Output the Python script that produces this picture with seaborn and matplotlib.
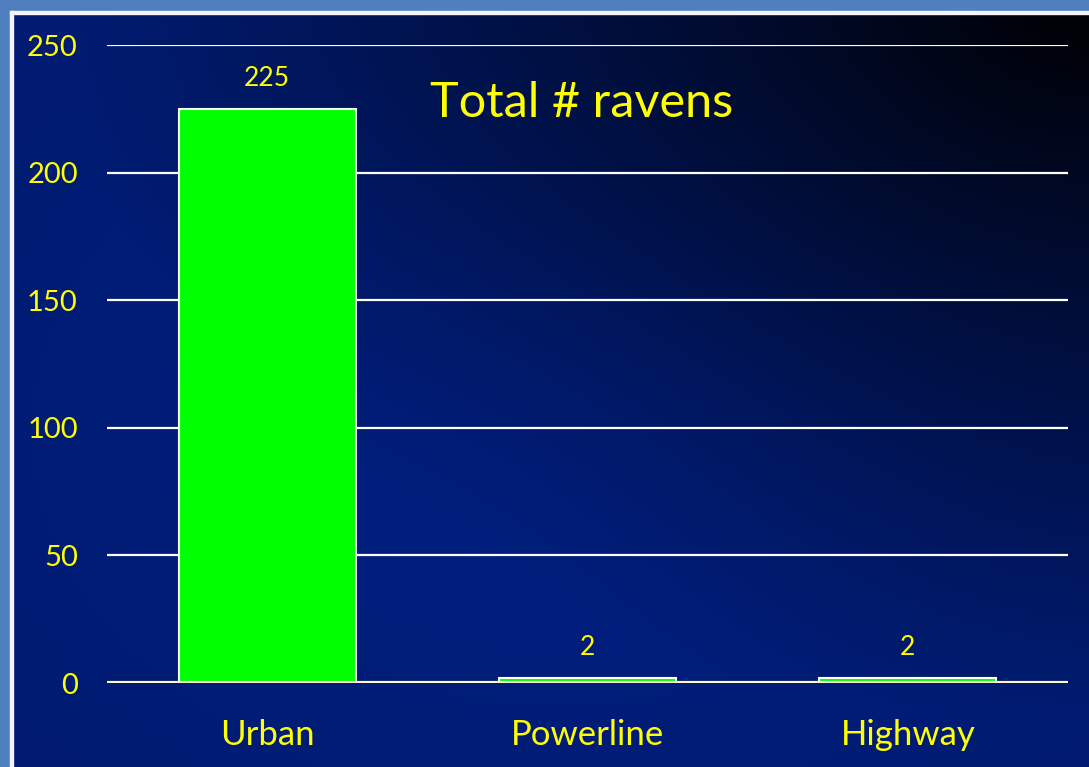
import numpy as np
import pandas as pd
import seaborn as sns
import matplotlib.pyplot as plt
from matplotlib.patches import Rectangle

# data
habitats = ["Urban", "Powerline", "Highway"]
ravens = [225, 2, 2]
yticks = [0, 50, 100, 150, 200, 250]

df = pd.DataFrame({"habitat": habitats, "ravens": ravens})

sns.set_style("white")
plt.rcParams["font.family"] = ["Lato", "DejaVu Sans"]

fig = plt.figure(figsize=(10.89, 7.67), dpi=100)

# background gradient: dark navy, going black toward the top-right corner
bg = fig.add_axes([0, 0, 1, 1], zorder=-10)
h, w = 767, 1089
yy, xx = np.mgrid[0:h, 0:w]
d = np.hypot((xx - w) / w, yy / h) / 1.25
t = np.clip(d / 0.75, 0, 1) ** 0.9
glow = np.exp(-(((xx - 560) / 420.0) ** 2 + ((yy - 430) / 300.0) ** 2))
inten = np.clip(t * 0.9 + 0.15 * glow, 0, 1.05)
img = np.zeros((h, w, 3))
img[..., 1] = 0.118 * inten
img[..., 2] = 0.49 * inten
bg.imshow(np.clip(img, 0, 1), aspect="auto", extent=[0, 1, 0, 1], origin="upper")
bg.set_axis_off()

# light blue slide frame at the left and top with a white inner line
fig.patches.append(Rectangle((0, 0), 10 / w, 1, transform=fig.transFigure,
                             color="#4f7fbf", zorder=-5))
fig.patches.append(Rectangle((0, 1 - 11 / h), 1, 11 / h, transform=fig.transFigure,
                             color="#4f7fbf", zorder=-5))
fig.patches.append(Rectangle((10 / w, 0), 2.5 / w, 1 - 11 / h, transform=fig.transFigure,
                             color="#f4f4ff", zorder=-4))
fig.patches.append(Rectangle((10 / w, 1 - 13.5 / h), 1, 2.5 / h, transform=fig.transFigure,
                             color="#f4f4ff", zorder=-4))

ax = fig.add_axes([107 / w, 84 / h, 961 / w, 638 / h])
ax.patch.set_alpha(0)

sns.barplot(data=df, x="habitat", y="ravens", color="#00ff00", saturation=1,
            width=0.553, edgecolor="white", linewidth=1.5, ax=ax, zorder=3)

ax.set_ylim(0, 250)
ax.set_xlim(-0.5, 2.5)
ax.set_yticks(yticks)
for v in yticks[1:]:
    ax.axhline(v, color="white", lw=1.6, zorder=1)
ax.axhline(0, color="#fff8d0", lw=3, zorder=4)

for s in ax.spines.values():
    s.set_visible(False)
ax.tick_params(axis="y", colors="#ffff00", labelsize=21, length=0, pad=21)
ax.tick_params(axis="x", colors="#ffff00", labelsize=25, length=0, pad=26)
ax.set_xlabel("")
ax.set_ylabel("")

ax.bar_label(ax.containers[0], labels=[str(v) for v in ravens], padding=13,
             color="#ffff00", fontsize=19)

fig.text(430 / w, 1 - 103 / h, "Total # ravens", color="#ffff00", fontsize=35,
         va="center", ha="left")

fig.savefig("out.png", dpi=100)
